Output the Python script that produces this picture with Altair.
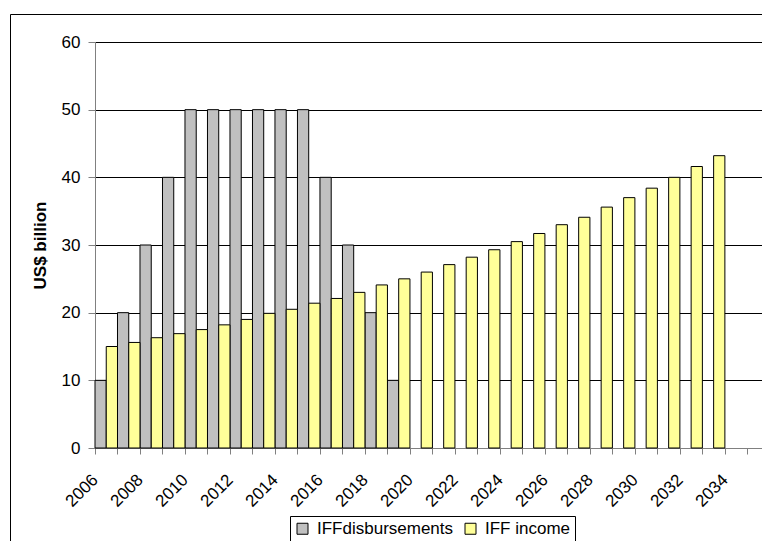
import altair as alt
import pandas as pd

# Data
disb_years = list(range(2006, 2020))
disb_values = [10, 20, 30, 40, 50, 50, 50, 50, 50, 50, 40, 30, 20, 10]

income_years = list(range(2006, 2034))
income_values = [15.0, 15.6, 16.3, 16.9, 17.5, 18.2, 19.0, 19.9, 20.5, 21.4,
                 22.1, 23.0, 24.1, 25.0, 26.0, 27.1, 28.2, 29.3, 30.5, 31.7,
                 33.0, 34.1, 35.6, 37.0, 38.4, 40.0, 41.6, 43.2]

series_names = ["IFFdisbursements", "IFF income"]
series_colors = ["#C0C0C0", "#FFFF99"]
tick_years = list(range(2006, 2036))

rows = [{"year": y, "value": v, "series": series_names[0]} for y, v in zip(disb_years, disb_values)]
rows += [{"year": y, "value": v, "series": series_names[1]} for y, v in zip(income_years, income_values)]
df = pd.DataFrame(rows)

FONT = "Liberation Sans"
W, H = 667, 406

bars = alt.Chart(df).transform_calculate(
    x0="datum.year + (datum.series == 'IFF income' ? 0.5 : 0)",
    x1="datum.year + (datum.series == 'IFF income' ? 1 : 0.5)",
).mark_bar(stroke="#000000", strokeWidth=1).encode(
    x=alt.X("x0:Q",
            scale=alt.Scale(domain=[2006, 2035.65], nice=False, zero=False),
            axis=alt.Axis(values=tick_years, format="d",
                          labelExpr="datum.value % 2 == 0 ? datum.label : ''",
                          labelAngle=-45, labelAlign="right", labelBaseline="middle",
                          labelPadding=23, labelOverlap=False, labelFlush=False, labelBound=False,
                          tickSize=6, tickColor="#808080", domainColor="#808080",
                          grid=False, title=None)),
    x2="x1:Q",
    y=alt.Y("value:Q",
            scale=alt.Scale(domain=[0, 60], nice=False),
            axis=alt.Axis(values=[0, 10, 20, 30, 40, 50, 60], tickSize=7,
                          tickColor="#808080", domainColor="#808080",
                          gridColor="#000000", gridWidth=1, labelPadding=8,
                          title="US$ billion", titleFontWeight="bold",
                          titlePadding=12)),
    y2=alt.datum(0),
    color=alt.Color("series:N",
                    scale=alt.Scale(domain=series_names, range=series_colors),
                    legend=alt.Legend(orient="none", legendX=195, legendY=474,
                                      direction="horizontal", title=None,
                                      symbolType="square", symbolSize=121,
                                      symbolStrokeColor="#000000", symbolStrokeWidth=1,
                                      labelOffset=6, columnPadding=8,
                                      padding=4, strokeColor="#000000",
                                      fillColor="#FFFFFF")),
)

frame_left = alt.Chart(pd.DataFrame({"a": [0]})).mark_rule(color="#000000", strokeWidth=1).encode(
    x=alt.value(-84.5), y=alt.value(-27.5), y2=alt.value(H + 120))
frame_top = alt.Chart(pd.DataFrame({"a": [0]})).mark_rule(color="#000000", strokeWidth=1).encode(
    x=alt.value(-84.5), x2=alt.value(W + 10), y=alt.value(-27.5))

chart = alt.layer(bars, frame_left, frame_top).properties(
    width=W, height=H,
    autosize="none",
    padding={"left": 87, "top": 34, "right": 0, "bottom": 93},
).configure_view(stroke=None).configure_axis(
    labelFont=FONT, labelFontSize=17, labelColor="#000000",
    titleFont=FONT, titleFontSize=17, titleColor="#000000",
).configure_legend(
    labelFont=FONT, labelFontSize=17, labelColor="#000000",
)

chart.save("out.html", embed_options={"renderer": "svg", "actions": False})
